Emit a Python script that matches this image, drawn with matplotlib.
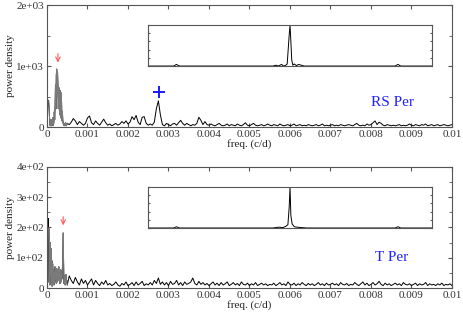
import numpy as np
import matplotlib
matplotlib.use("Agg")
import matplotlib.pyplot as plt
from matplotlib.ticker import MultipleLocator, FuncFormatter

# --- RS Per power spectrum -------------------------------------------------
# fine part, 0 .. 0.0005 c/d, step 1e-5
rs_fine = [150, 250, 380, 440, 430, 330, 180, 60, 20, 60,
           120, 80, 20, 60, 150, 100, 30, 90, 250, 120,
           350, 700, 300, 850, 950, 500, 900, 700, 300, 650,
           580, 200, 600, 450, 150, 560, 400, 100, 250, 120,
           60, 30, 60, 40, 20, 50, 70, 40, 20, 40,
           60]
# coarse part, 0.00055 .. 0.01 c/d, step 5e-5
rs_coarse = [40, 80, 140, 100, 40, 90, 60, 30, 60, 150,
             180, 70, 40, 100, 60, 30, 80, 130, 70, 30,
             50, 20, 40, 60, 30, 50, 90, 60, 100, 50,
             80, 170, 120, 190, 80, 40, 160, 170, 60, 30,
             50, 30, 80, 300, 430, 200, 40, 20, 60, 40,
             20, 50, 60, 30, 70, 110, 60, 30, 60, 40,
             20, 40, 30, 60, 160, 110, 40, 90, 40, 30,
             50, 30, 20, 40, 60, 30, 20, 30, 50, 20,
             40, 30, 20, 50, 30, 20, 40, 70, 30, 20,
             40, 60, 30, 20, 30, 40, 20, 30, 50, 30,
             20, 40, 30, 20, 50, 30, 20, 30, 40, 20,
             30, 50, 20, 30, 40, 20, 30, 20, 40, 30,
             20, 30, 40, 20, 30, 50, 20, 30, 20, 30,
             40, 20, 30, 20, 40, 30, 20, 30, 40, 30,
             20, 40, 60, 30, 20, 30, 20, 50, 30, 40,
             70, 100, 40, 80, 60, 30, 20, 40, 30, 20,
             30, 20, 30, 40, 20, 30, 20, 30, 50, 30,
             20, 40, 30, 20, 40, 30, 50, 20, 30, 40,
             20, 30, 40, 20, 30, 40, 30, 20, 30, 40]

# --- T Per power spectrum --------------------------------------------------
tp_fine = [200, 250, 60, 230, 20, 200, 140, 10, 150, 40,
           130, 20, 90, 5, 80, 30, 60, 10, 50, 20,
           70, 30, 55, 15, 65, 40, 20, 60, 25, 70,
           35, 50, 15, 45, 60, 20, 45, 30, 60, 120,
           182, 80, 15, 40, 20, 10, 30, 45, 15, 25,
           10]
tp_coarse = [40, 25, 15, 35, 20, 10, 30, 15, 25, 10,
             20, 30, 10, 25, 15, 8, 20, 12, 25, 10,
             15, 8, 12, 20, 10, 6, 15, 10, 20, 8,
             12, 18, 8, 20, 10, 15, 22, 8, 14, 10,
             18, 10, 25, 15, 33, 12, 20, 10, 18, 8,
             22, 12, 15, 25, 10, 18, 8, 20, 12, 15,
             20, 33, 15, 10, 22, 12, 18, 10, 15, 8,
             14, 20, 10, 16, 8, 18, 10, 14, 20, 8,
             12, 18, 10, 15, 8, 20, 12, 10, 16, 8,
             14, 10, 18, 8, 12, 16, 10, 14, 8, 12,
             10, 16, 8, 12, 18, 10, 14, 8, 20, 12,
             10, 16, 8, 14, 10, 18, 12, 8, 15, 10,
             14, 8, 12, 18, 10, 14, 8, 16, 10, 12,
             16, 10, 14, 8, 18, 12, 10, 15, 8, 12,
             10, 18, 12, 8, 14, 20, 10, 16, 8, 12,
             18, 10, 14, 22, 12, 8, 16, 10, 14, 8,
             12, 16, 10, 14, 8, 18, 12, 10, 14, 8,
             12, 16, 8, 14, 10, 12, 18, 8, 14, 10,
             12, 8, 14, 10, 16, 8, 12, 10, 14, 8]

# --- spectral windows (insets), relative frequency and power -----------------
rs_win_x = [-1.0, -0.82, -0.80, -0.78, -0.12, -0.10, -0.08, -0.06, -0.045,
            -0.03, -0.02, -0.012, -0.006, 0.0, 0.006, 0.012, 0.02, 0.03,
            0.045, 0.06, 0.08, 0.10, 0.74, 0.76, 0.78, 1.0]
rs_win_y = [0.0, 0.0, 0.04, 0.0, 0.0, 0.02, 0.0, 0.04, 0.0,
            0.02, 0.05, 0.45, 0.75, 1.0, 0.6, 0.15, 0.02, 0.05,
            0.01, 0.04, 0.02, 0.0, 0.0, 0.04, 0.0, 0.0]
tp_win_x = [-1.0, -0.82, -0.80, -0.78, -0.12, -0.08, -0.05, -0.03, -0.015,
            -0.006, 0.0, 0.006, 0.015, 0.03, 0.05, 0.08, 0.12, 0.74, 0.76,
            0.78, 1.0]
tp_win_y = [0.0, 0.0, 0.03, 0.0, 0.0, 0.02, 0.01, 0.04, 0.08,
            0.5, 1.0, 0.3, 0.1, 0.03, 0.02, 0.01, 0.0, 0.0, 0.03,
            0.0, 0.0]

# annotations: arrow (freq, tail, head), plus marker
rs_arrow = (0.00027, 1250, 1010)
rs_plus = (0.00277, 574)
tp_arrow = (0.0004, 245, 198)

freq_fine = np.arange(len(rs_fine)) * 1e-5
freq_coarse = 0.00055 + np.arange(len(rs_coarse)) * 5e-5

plt.rcParams['font.family'] = ['Liberation Serif', 'DejaVu Serif']
GREY = '#555555'

fig = plt.figure(figsize=(4.63, 3.16), dpi=100)


def sci_fmt(v, pos):
    if v == 0:
        return '0'
    return '%.0e' % v


def panel(rect, fine, coarse, ymax, ymajor, yminor, name, name_pos):
    ax = fig.add_axes(rect)
    f = np.concatenate([freq_fine, freq_coarse])
    p = np.concatenate([fine, coarse])
    ax.plot(f, p, color='black', lw=0.7)
    ax.plot(freq_fine[4:], fine[4:], color='#7a7a7a', lw=0.7)
    ax.set_xlim(0, 0.01)
    ax.set_ylim(0, ymax)
    ax.xaxis.set_major_locator(MultipleLocator(0.001))
    ax.yaxis.set_major_locator(MultipleLocator(ymajor))
    ax.yaxis.set_minor_locator(MultipleLocator(yminor))
    ax.xaxis.set_major_formatter(FuncFormatter(
        lambda v, pos: '0' if v == 0 else ('%.3f' % v).rstrip('0')))
    ax.yaxis.set_major_formatter(FuncFormatter(sci_fmt))
    ax.tick_params(which='both', direction='in', top=True, right=True,
                   color=GREY, labelsize=8, labelcolor='#333333', pad=2)
    ax.tick_params(which='major', length=3)
    ax.tick_params(which='minor', length=2)
    for s in ax.spines.values():
        s.set_color(GREY)
        s.set_linewidth(0.8)
    ax.set_xlabel('freq. (c/d)', fontsize=8, labelpad=0, color='#222222')
    ax.set_ylabel('power density', fontsize=8, labelpad=1, color='#222222')
    ax.text(name_pos[0], name_pos[1], name, transform=ax.transAxes,
            color='#2222ff', fontsize=11, ha='center', va='center')
    return ax


def inset(rect, wx, wy):
    ax = fig.add_axes(rect)
    ax.plot(wx, wy, color='black', lw=0.7)
    ax.set_xlim(-1, 1)
    ax.set_ylim(0, 1)
    ax.set_xticks([])
    ax.set_yticks([0, 0.2, 0.4, 0.6, 0.8, 1.0])
    ax.set_yticklabels([])
    ax.tick_params(direction='in', left=True, right=True, length=1.5,
                   color=GREY)
    for s in ax.spines.values():
        s.set_color(GREY)
        s.set_linewidth(0.8)
    return ax


ax1 = panel([0.1015, 0.598, 0.8747, 0.386], rs_fine, rs_coarse,
            2000, 1000, 500, 'RS Per', (0.853, 0.205))
ax1.annotate('', xy=(rs_arrow[0], rs_arrow[2]), xytext=(rs_arrow[0], rs_arrow[1]),
             arrowprops=dict(arrowstyle='->', color='#ff5a5a', lw=0.8,
                             mutation_scale=8))
ax1.plot(rs_plus[0], rs_plus[1], marker='+', color='#1a1aff', ms=8, mew=1.4)
inset([0.3197, 0.791, 0.6134, 0.1297], rs_win_x, rs_win_y)

ax2 = panel([0.1015, 0.0886, 0.8747, 0.383], tp_fine, tp_coarse,
            400, 100, 50, 'T Per', (0.851, 0.256))
ax2.annotate('', xy=(tp_arrow[0], tp_arrow[2]), xytext=(tp_arrow[0], tp_arrow[1]),
             arrowprops=dict(arrowstyle='->', color='#ff5a5a', lw=0.8,
                             mutation_scale=8))
inset([0.3197, 0.2785, 0.6134, 0.1297], tp_win_x, tp_win_y)

fig.savefig('out.png', dpi=100)
